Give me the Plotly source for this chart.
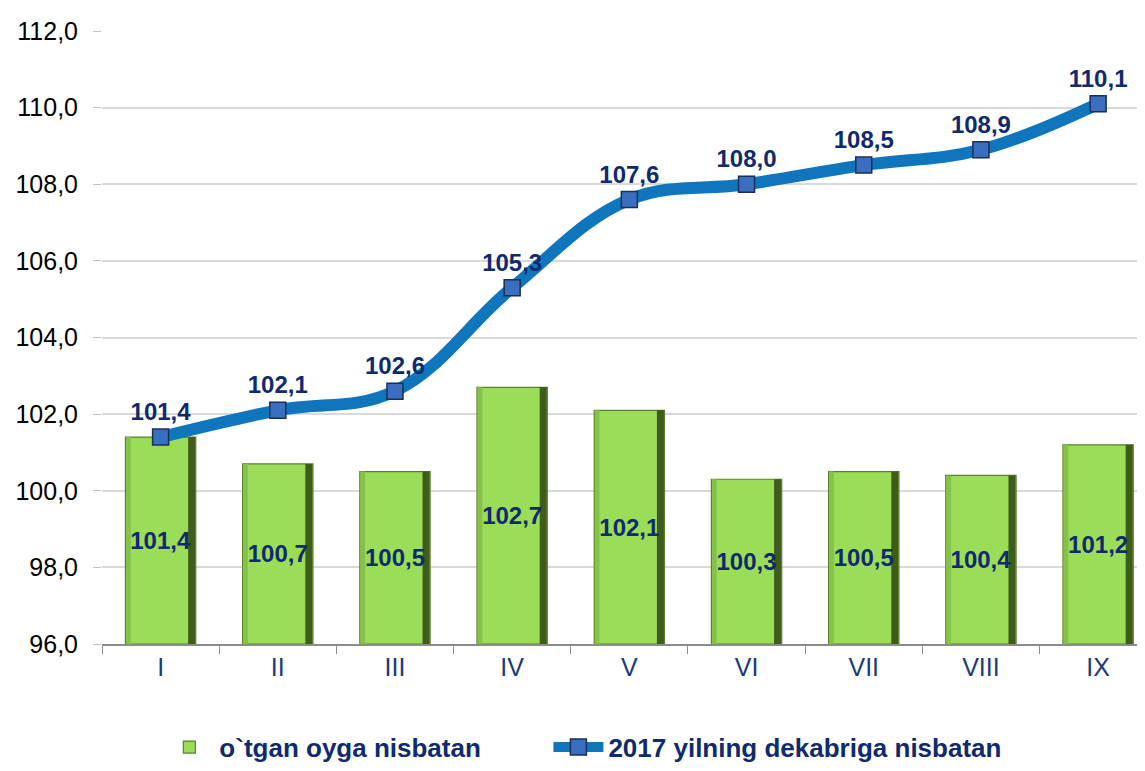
import plotly.graph_objects as go

months = ["I", "II", "III", "IV", "V", "VI", "VII", "VIII", "IX"]
prev_month = [101.4, 100.7, 100.5, 102.7, 102.1, 100.3, 100.5, 100.4, 101.2]
dec_2017 = [101.4, 102.1, 102.6, 105.3, 107.6, 108.0, 108.5, 108.9, 110.1]
y_ticks = [96, 98, 100, 102, 104, 106, 108, 110, 112]

navy = "#0f2a6e"
FONT = "Liberation Sans, Arial"

def fmt(v):
    return f"{v:.1f}".replace(".", ",")

base = 96
heights = [v - base for v in prev_month]

fig = go.Figure()

# main bar body
fig.add_trace(go.Bar(
    x=months, y=heights, base=base,
    name="o`tgan oyga nisbatan",
    marker=dict(color="#9bdc58", line=dict(color="#5b7f2a", width=1.2)),
    width=0.6, legend="legend",
    hoverinfo="skip",
))
# bevel: dark right edge
fig.add_trace(go.Bar(
    x=months, y=heights, base=base, width=0.06, offset=0.235,
    marker=dict(color="#3f5c1c", line=dict(width=0)),
    showlegend=False, hoverinfo="skip",
))
# bevel: lighter left edge
fig.add_trace(go.Bar(
    x=months, y=heights, base=base, width=0.04, offset=-0.295,
    marker=dict(color="#86c24a", line=dict(width=0)),
    showlegend=False, hoverinfo="skip",
))
# labels inside bars
fig.add_trace(go.Bar(
    x=months, y=heights, base=base, width=0.6,
    marker=dict(color="rgba(0,0,0,0)", line=dict(width=0)),
    text=[f"<b>{fmt(v)}</b>" for v in prev_month],
    textposition="inside", insidetextanchor="middle", textangle=0,
    textfont=dict(family=FONT, size=24, color=navy),
    showlegend=False, hoverinfo="skip",
))

fig.add_trace(go.Scatter(
    x=months, y=dec_2017,
    name="2017 yilning dekabriga nisbatan",
    mode="lines+markers+text",
    line=dict(color="#0f75bd", width=12, shape="spline", smoothing=1.1),
    marker=dict(symbol="square", size=16, color="#3a6fc0",
                line=dict(color="#1a2f55", width=1.5)),
    text=[f"<b>{fmt(v)}</b>" for v in dec_2017],
    textposition="top center",
    textfont=dict(family=FONT, size=24, color=navy),
    cliponaxis=False, legend="legend2",
))

legend_font = dict(family=FONT, size=26, color=navy, weight="bold")

# page body has an 8px margin, so the figure is sized/offset to compensate
fig.update_layout(
    width=1137, height=763,
    margin=dict(l=94, r=0, t=23, b=119),
    plot_bgcolor="white", paper_bgcolor="white",
    barmode="overlay",
    showlegend=True,
    legend=dict(orientation="h", x=0.055, xanchor="left", y=-0.13, yanchor="top",
                font=legend_font, itemwidth=50),
    legend2=dict(orientation="h", x=0.428, xanchor="left", y=-0.13, yanchor="top",
                 font=legend_font, itemwidth=50),
    font=dict(family=FONT),
)
fig.update_xaxes(
    type="category", range=[-0.5, 8.4],
    showline=True, linecolor="#8c8c8c", linewidth=1.5,
    ticks="outside", tickson="boundaries", ticklen=8, tickcolor="#8c8c8c",
    tickfont=dict(family=FONT, size=25, color="#1b3a7a"),
    showgrid=False, automargin=False,
)
fig.update_yaxes(
    range=[96, 112], tickvals=y_ticks,
    ticktext=[fmt(v) for v in y_ticks],
    showgrid=True, gridcolor="#d9d9d9", gridwidth=1.5,
    ticks="outside", ticklen=8, tickcolor="#bfbfbf",
    tickfont=dict(family=FONT, size=25, color="black"),
    ticklabelstandoff=10,
    zeroline=False, showline=False, automargin=False,
)

fig.write_html("out.html")
